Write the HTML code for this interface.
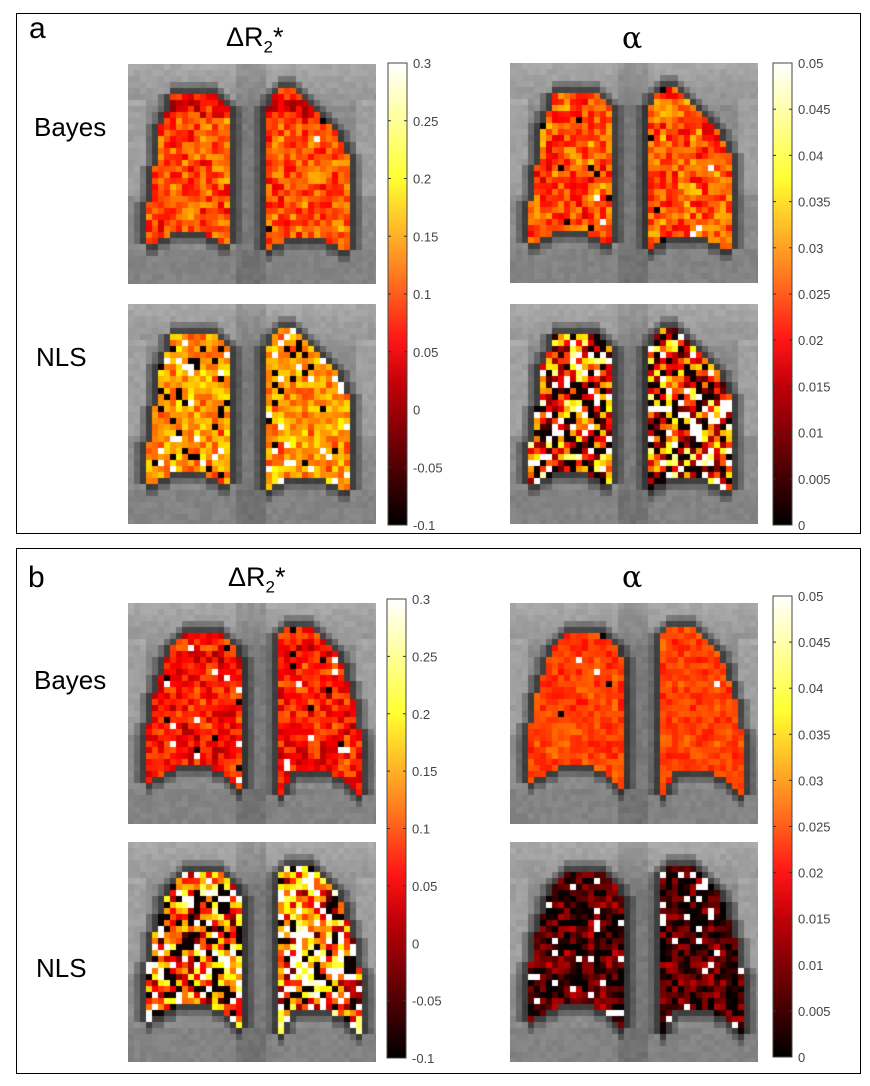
<!DOCTYPE html>
<html><head><meta charset="utf-8">
<style>
html,body{margin:0;padding:0;background:#fff;}
body{width:870px;height:1086px;position:relative;overflow:hidden;font-family:"Liberation Sans",sans-serif;}
.box{position:absolute;border:1.5px solid #000;box-sizing:border-box;}
.lbl{position:absolute;color:#000;line-height:1;}
canvas{position:absolute;}
svg{position:absolute;left:0;top:0;}
</style></head>
<body>
<div class="box" style="left:16px;top:13px;width:845px;height:521px;"></div>
<div class="box" style="left:16px;top:548px;width:845px;height:526px;"></div>

<div class="lbl" style="left:29px;top:14px;font-size:30px;">a</div>
<div class="lbl" style="left:28px;top:563px;font-size:30px;">b</div>

<div class="lbl" style="left:226px;top:24px;font-size:27px;">ΔR<sub style="font-size:17px;">2</sub>*</div>
<div class="lbl" style="left:622px;top:24px;font-size:30px;font-family:'DejaVu Serif',serif;">α</div>
<div class="lbl" style="left:228px;top:564px;font-size:27px;">ΔR<sub style="font-size:17px;">2</sub>*</div>
<div class="lbl" style="left:622px;top:563px;font-size:30px;font-family:'DejaVu Serif',serif;">α</div>

<div class="lbl" style="left:34px;top:114px;font-size:26px;">Bayes</div>
<div class="lbl" style="left:36px;top:344px;font-size:26px;">NLS</div>
<div class="lbl" style="left:34px;top:667px;font-size:26px;">Bayes</div>
<div class="lbl" style="left:36px;top:955px;font-size:26px;">NLS</div>

<canvas id="c0" width="248" height="220" style="left:128px;top:64px"></canvas>
<canvas id="c1" width="248" height="220" style="left:510px;top:63px"></canvas>
<canvas id="c2" width="248" height="220" style="left:128px;top:304px"></canvas>
<canvas id="c3" width="248" height="220" style="left:510px;top:304px"></canvas>
<canvas id="c4" width="248" height="221" style="left:128px;top:603px"></canvas>
<canvas id="c5" width="248" height="221" style="left:510px;top:603px"></canvas>
<canvas id="c6" width="248" height="220" style="left:128px;top:842px"></canvas>
<canvas id="c7" width="248" height="220" style="left:510px;top:842px"></canvas>

<svg id="bars" width="870" height="1086">
<defs>
<linearGradient id="hot" x1="0" y1="0" x2="0" y2="1">
<stop offset="0" stop-color="#ffffff"/>
<stop offset="0.25" stop-color="#ffff30"/>
<stop offset="0.45" stop-color="#ff8020"/>
<stop offset="0.6" stop-color="#ff1515"/>
<stop offset="0.7" stop-color="#c00008"/>
<stop offset="1" stop-color="#000000"/>
</linearGradient>
</defs>
</svg>

<script>
// colorbar tick labels
const drTicks = ["0.3","0.25","0.2","0.15","0.1","0.05","0","-0.05","-0.1"];
const alphaTicks = ["0.05","0.045","0.04","0.035","0.03","0.025","0.02","0.015","0.01","0.005","0"];
const NS='http://www.w3.org/2000/svg';
const svg=document.getElementById('bars');
function colorbar(name,x,y0,y1,ticks){
  const g=document.createElementNS(NS,'g');
  
  
  const r=document.createElementNS(NS,'rect');
  r.setAttribute('x',x);r.setAttribute('y',y0);r.setAttribute('width',19);r.setAttribute('height',y1-y0);
  r.setAttribute('fill','url(#hot)');r.setAttribute('stroke','#444');r.setAttribute('stroke-width','1');
  
  
  g.appendChild(r);
  const n=ticks.length;
  ticks.forEach((t,i)=>{
    const y=y0+(y1-y0)*i/(n-1);
    if(i>0&&i<n-1){
      [[x,x+3],[x+16,x+19]].forEach(p=>{
        const l=document.createElementNS(NS,'line');
        l.setAttribute('x1',p[0]);l.setAttribute('x2',p[1]);l.setAttribute('y1',y);l.setAttribute('y2',y);
        l.setAttribute('stroke','#333');l.setAttribute('stroke-width','1');
        
        
        g.appendChild(l);
      });
    }
    const tx=document.createElementNS(NS,'text');
    tx.setAttribute('x',x+25);tx.setAttribute('y',y+5);
    tx.setAttribute('font-size','13');tx.setAttribute('fill','#444');
    tx.setAttribute('font-family','Liberation Sans, sans-serif');
    tx.textContent=t;
    
    
    g.appendChild(tx);
  });
  svg.appendChild(g);
}
colorbar('colorbar-a-delta-r2',388,63,525,drTicks);
colorbar('colorbar-a-alpha',773,63,525,alphaTicks);
colorbar('colorbar-b-delta-r2',387,599,1058,drTicks);
colorbar('colorbar-b-alpha',773,596,1057,alphaTicks);

// lung outlines (image-relative)
const lungA=[[[45,30],[85,30],[99,44],[104,60],[104,184],[95,178],[70,169],[45,170],[30,176],[16,186],[18,160],[22,130],[28,100],[32,63],[39,48]],
             [[152,22],[165,24],[178,38],[202,60],[219,90],[222,188],[205,180],[180,171],[160,174],[140,186],[139,45],[144,32]]];
const lungB=[[[56,32],[95,32],[108,44],[113,60],[113,190],[100,172],[80,162],[50,163],[20,178],[21,120],[28,85],[38,55],[46,40]],
             [[157,22],[178,22],[198,38],[214,60],[230,110],[236,194],[215,178],[190,165],[165,170],[153,192],[150,50],[152,32]]];
// texture params per map
const mapMean=[0.49,0.5,0.6,0.48,0.4,0.47,0.55,0.12];
const mapSpread=[0.12,0.13,0.12,0.36,0.12,0.06,0.32,0.14];
const mapSpeckle=[0.01,0.03,0.12,0.35,0.05,0.01,0.33,0.16];

function hash(a,b,c){let h=(a*374761393+b*668265263+c*2147483647)|0;h=(h^(h>>>13))*1274126177|0;h=h^(h>>>16);return ((h>>>0)%100000)/100000;}
function inPoly(x,y,p){let c=false;for(let i=0,j=p.length-1;i<p.length;j=i++){const [xi,yi]=p[i],[xj,yj]=p[j];if(((yi>y)!=(yj>y))&&(x<(xj-xi)*(y-yi)/(yj-yi)+xi))c=!c;}return c;}
function hot(t){t=Math.max(0,Math.min(1,t));let r=Math.min(1,t/0.375),g=Math.max(0,Math.min(1,(t-0.375)/0.375)),b=Math.max(0,(t-0.75)/0.25);return `rgb(${r*255|0},${g*255|0},${b*255|0})`;}
function bg(u,v,k){
  let g=140;
  if(v<0.2)g=170-v*120;
  if(u>0.44&&u<0.56)g-=18;
  if((u<0.08||u>0.92)&&v>0.15&&v<0.6)g+=20;
  if(v>0.85)g-=8;
  g+= (hash(Math.floor(u*41),Math.floor(v*37),k+50)-0.5)*14;
  return g;
}
function draw(id,k,lungs){
  const c=document.getElementById(id),x=c.getContext('2d');
  const W=c.width,H=c.height,cs=6;
  for(let j=0;j*cs<H;j++)for(let i=0;i*cs<W;i++){
    const cx=i*cs+3,cy=j*cs+3;
    let inside=lungs.some(p=>inPoly(cx,cy,p));
    if(inside){
      let t=mapMean[k]+(hash(i,j,k)-0.5)*2*mapSpread[k];
      t+=(hash(i>>1,j>>1,k+9)-0.5)*mapSpread[k];
      if(cy<55 && (k==0))t-=0.1;
      const s=hash(i,j,k+20);
      if(s<mapSpeckle[k]/2)t=1;else if(s<mapSpeckle[k])t=0.02;
      x.fillStyle=hot(t);
    }else{
      let near=0;
      for(const [dx,dy] of [[-6,0],[6,0],[0,6],[0,-6]])if(lungs.some(p=>inPoly(cx+dx,cy+dy,p)))near++;
      let near2=false;
      for(const [dx,dy] of [[-12,0],[12,0],[0,12],[0,-12]])if(lungs.some(p=>inPoly(cx+dx,cy+dy,p)))near2=true;
      let g=bg(cx/W,cy/H,k);
      if(near)g=g*0.45;else if(near2)g=g*0.75;
      g=Math.max(0,Math.min(255,g))|0;
      x.fillStyle=`rgb(${g},${g},${g})`;
    }
    x.fillRect(i*cs,j*cs,cs,cs);
  }
}
[0,1,2,3].forEach(k=>draw('c'+k,k,lungA));
[4,5,6,7].forEach(k=>draw('c'+k,k,lungB));
</script>
</body></html>
